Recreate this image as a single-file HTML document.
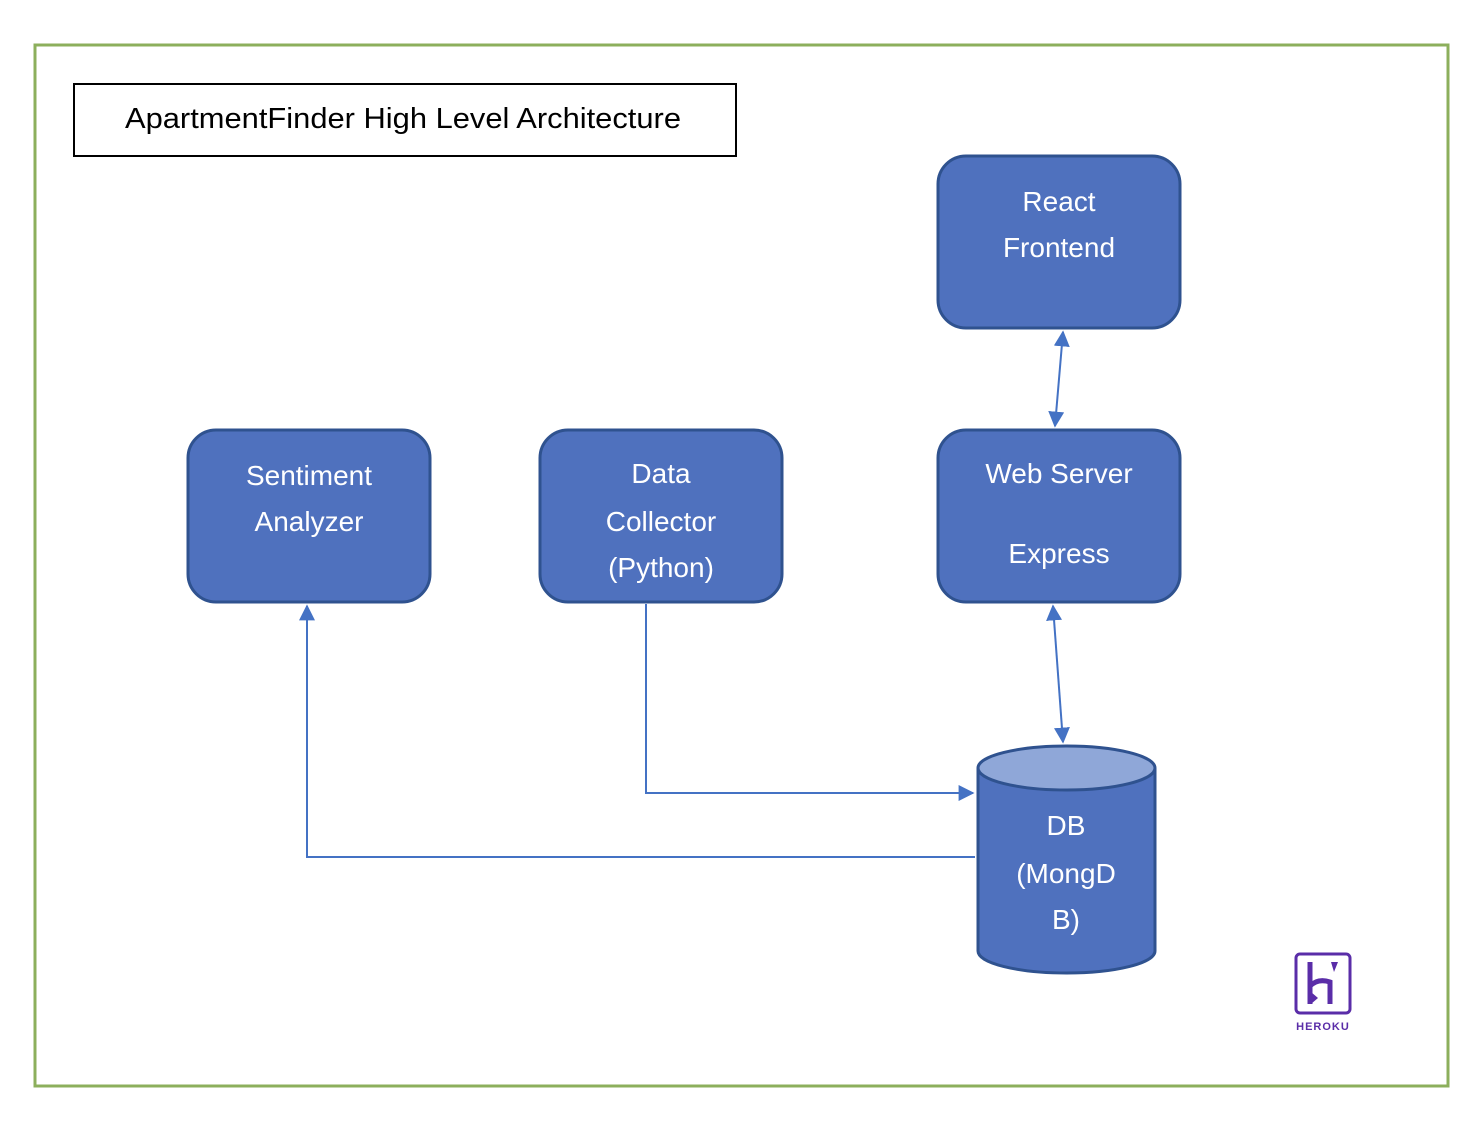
<!DOCTYPE html>
<html><head><style>body{margin:0;background:#fff}svg{display:block}</style></head><body>
<svg width="1476" height="1124" viewBox="0 0 1476 1124" xmlns="http://www.w3.org/2000/svg" font-family="Liberation Sans, sans-serif">
<defs>
<marker id="a" viewBox="0 0 10 10" refX="9" refY="5" markerWidth="8" markerHeight="8" orient="auto-start-reverse"><path d="M0,0L10,5L0,10z" fill="#4472C4"/></marker>
</defs>
<rect x="35" y="45" width="1413" height="1041" fill="none" stroke="#8CAF5C" stroke-width="3"/>
<rect x="74" y="84" width="662" height="72" fill="#fff" stroke="#000" stroke-width="2"/>
<text x="125" y="128" font-size="29" textLength="556" lengthAdjust="spacingAndGlyphs" fill="#000">ApartmentFinder High Level Architecture</text>
<g fill="#4F71BE" stroke="#2F528F" stroke-width="3">
<rect x="938" y="156" width="242" height="172" rx="28"/>
<rect x="188" y="430" width="242" height="172" rx="28"/>
<rect x="540" y="430" width="242" height="172" rx="28"/>
<rect x="938" y="430" width="242" height="172" rx="28"/>
<path d="M978,768 V951 A88.5,22 0 0 0 1155,951 V768"/>
<ellipse cx="1066.5" cy="768" rx="88.5" ry="22" fill="#8FA7D8"/>
</g>
<g fill="#fff" font-size="28" text-anchor="middle">
<text x="1059" y="211">React</text><text x="1059" y="257">Frontend</text>
<text x="309" y="485">Sentiment</text><text x="309" y="531">Analyzer</text>
<text x="661" y="483">Data</text><text x="661" y="531">Collector</text><text x="661" y="577">(Python)</text>
<text x="1059" y="483">Web Server</text><text x="1059" y="563">Express</text>
<text x="1066" y="835">DB</text><text x="1066" y="883">(MongD</text><text x="1066" y="929">B)</text>
</g>
<g stroke="#4472C4" stroke-width="2" fill="none">
<line x1="1063" y1="332" x2="1055" y2="426" marker-start="url(#a)" marker-end="url(#a)"/>
<line x1="1053" y1="606" x2="1063" y2="742" marker-start="url(#a)" marker-end="url(#a)"/>
<polyline points="646,604 646,793 973,793" marker-end="url(#a)"/>
<polyline points="975,857 307,857 307,606" marker-end="url(#a)"/>
</g>
<rect x="1296" y="954" width="54" height="59" rx="4" fill="none" stroke="#5A2DA8" stroke-width="3"/>
<path d="M1310,962 V1004 M1310,986 Q1318,978 1330,982 V1004" stroke="#5A2DA8" stroke-width="5" fill="none"/>
<path d="M1331,962 L1338,962 L1334,972z" fill="#5A2DA8"/>
<path d="M1311,992 L1318,998 L1311,1004z" fill="#5A2DA8"/>
<text x="1323" y="1030" font-size="11" font-weight="bold" fill="#5A2DA8" text-anchor="middle" letter-spacing="1">HEROKU</text>
</svg>
</body></html>
